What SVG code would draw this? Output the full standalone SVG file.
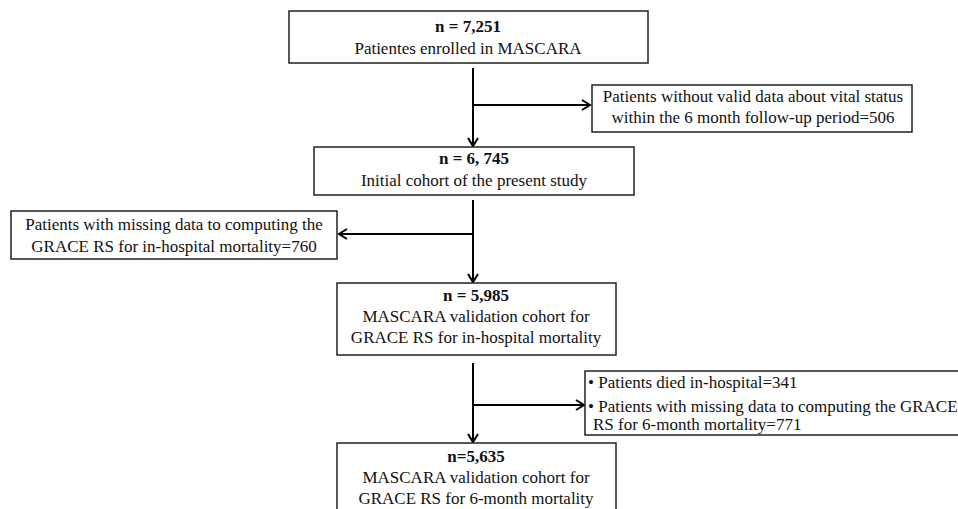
<svg xmlns="http://www.w3.org/2000/svg" width="958" height="509" viewBox="0 0 958 509">
<style>
.box{fill:#fff;stroke:#222;stroke-width:1.5}
.t{font-family:"Liberation Serif",serif;font-size:17px;fill:#111}
.c{text-anchor:middle}
.b{font-weight:bold}
.ln{fill:none;stroke:#000;stroke-width:2}
</style>
<defs>
<marker id="ah" markerWidth="12" markerHeight="12" refX="10" refY="6" orient="auto" markerUnits="userSpaceOnUse">
<polyline points="2,1 10,6 2,11" fill="none" stroke="#000" stroke-width="2"/>
</marker>
</defs>
<rect width="958" height="509" fill="#fff"/>
<g id="connectors">
<line class="ln" x1="473" y1="68" x2="473" y2="146" marker-end="url(#ah)"/>
<line class="ln" x1="473" y1="105" x2="590" y2="105" marker-end="url(#ah)"/>
<line class="ln" x1="473" y1="200" x2="473" y2="282" marker-end="url(#ah)"/>
<line class="ln" x1="473" y1="234" x2="339" y2="234" marker-end="url(#ah)"/>
<line class="ln" x1="473" y1="363" x2="473" y2="442" marker-end="url(#ah)"/>
<line class="ln" x1="473" y1="405" x2="584" y2="405" marker-end="url(#ah)"/>
</g>
<g id="n1">
<rect class="box" x="289" y="11" width="359" height="52"/>
<text class="t c b" x="468" y="32">n = 7,251</text>
<text class="t c" x="468" y="54">Patientes enrolled in MASCARA</text>
</g>
<g id="x1">
<rect class="box" x="592" y="85" width="320" height="47"/>
<text class="t c" x="753" y="102">Patients without valid data about vital status</text>
<text class="t c" x="753" y="123">within the 6 month follow-up period=506</text>
</g>
<g id="n2">
<rect class="box" x="314" y="147" width="320" height="48"/>
<text class="t c b" x="474" y="164">n = 6, 745</text>
<text class="t c" x="474" y="186">Initial cohort of the present study</text>
</g>
<g id="x2">
<rect class="box" x="11" y="211" width="326" height="48"/>
<text class="t c" x="174" y="230">Patients with missing data to computing the</text>
<text class="t c" x="174" y="252">GRACE RS for in-hospital mortality=760</text>
</g>
<g id="n3">
<rect class="box" x="337" y="283" width="279" height="72"/>
<text class="t c b" x="476" y="301">n = 5,985</text>
<text class="t c" x="476" y="322">MASCARA validation cohort for</text>
<text class="t c" x="476" y="343">GRACE RS for in-hospital mortality</text>
</g>
<g id="x3">
<rect class="box" x="585" y="371" width="390" height="64"/>
<text class="t" x="588" y="388">• Patients died in-hospital=341</text>
<text class="t" x="588" y="412">• Patients with missing data to computing the GRACE</text>
<text class="t" x="593" y="430">RS for 6-month mortality=771</text>
</g>
<g id="n4">
<rect class="box" x="337" y="443" width="279" height="80"/>
<text class="t c b" x="476" y="462">n=5,635</text>
<text class="t c" x="476" y="483">MASCARA validation cohort for</text>
<text class="t c" x="476" y="504">GRACE RS for 6-month mortality</text>
</g>
</svg>
